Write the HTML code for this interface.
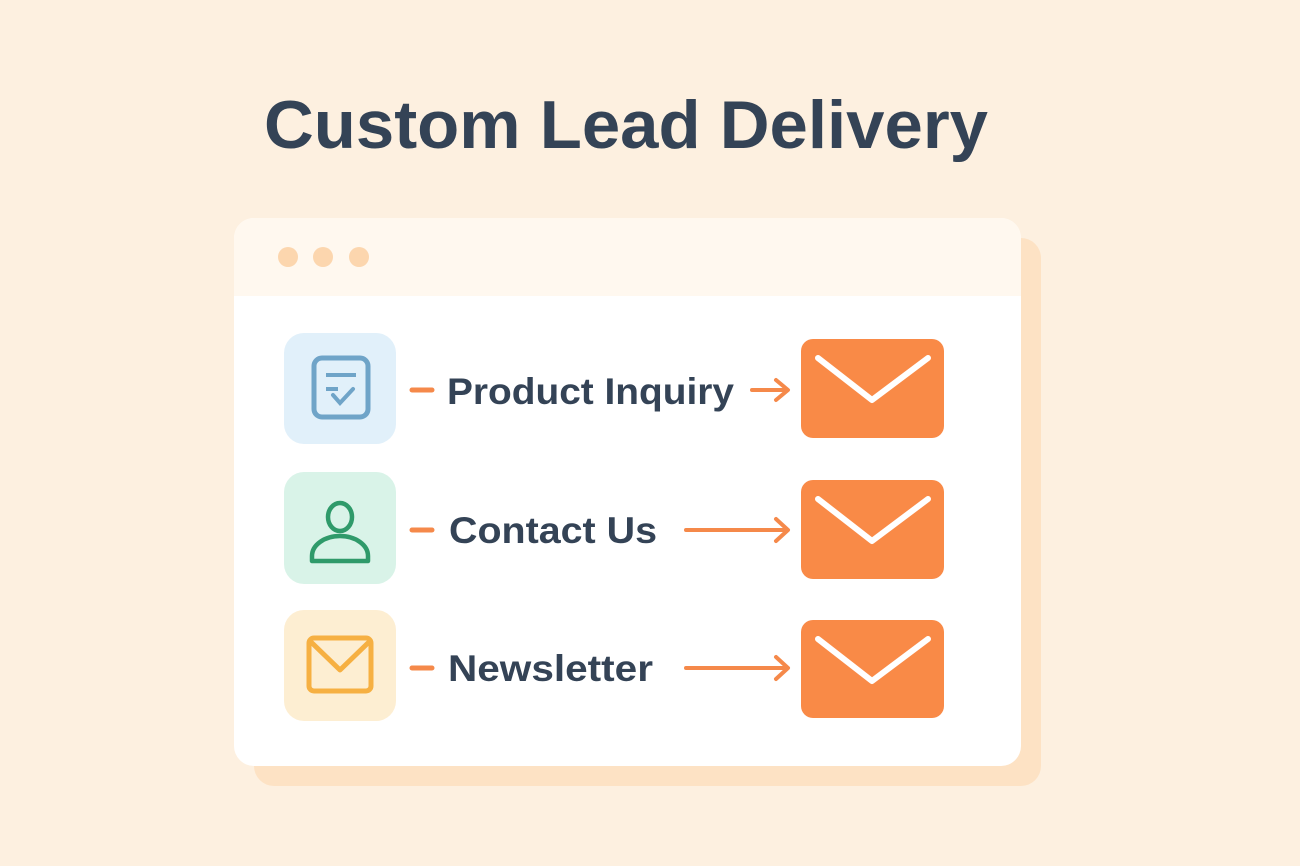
<!DOCTYPE html>
<html><head><meta charset="utf-8"><style>
html,body{margin:0;padding:0;background:#fdf0e0;}
svg{display:block}
text{font-family:"Liberation Sans",sans-serif;fill:#344356;}
</style></head><body>
<svg width="1300" height="866" viewBox="0 0 1300 866" xmlns="http://www.w3.org/2000/svg">
<rect width="1300" height="866" fill="#fdf0e0"/>
<text x="264" y="148" font-size="68" font-weight="bold" textLength="724" lengthAdjust="spacingAndGlyphs">Custom Lead Delivery</text>
<rect x="254" y="238" width="787" height="548" rx="20" fill="#fde2c4"/>
<rect x="234" y="218" width="787" height="548" rx="20" fill="#ffffff"/>
<path d="M234 296 V238 a20 20 0 0 1 20 -20 H1001 a20 20 0 0 1 20 20 V296 Z" fill="#fff8ef"/>
<circle cx="288" cy="257" r="10" fill="#fcd6ae"/>
<circle cx="323" cy="257" r="10" fill="#fcd6ae"/>
<circle cx="359" cy="257" r="10" fill="#fcd6ae"/>

<!-- row 1 -->
<rect x="284" y="333" width="112" height="111" rx="20" fill="#e1f0fa"/>
<rect x="314" y="358" width="54" height="59" rx="8" fill="none" stroke="#6fa4c8" stroke-width="5"/>
<line x1="326" y1="375" x2="356" y2="375" stroke="#6fa4c8" stroke-width="4"/>
<line x1="326" y1="389" x2="338" y2="389" stroke="#6fa4c8" stroke-width="4"/>
<polyline points="333,395 340,403 353,389" fill="none" stroke="#6fa4c8" stroke-width="4" stroke-linecap="round"/>
<line x1="412" y1="390" x2="432" y2="390" stroke="#f5894a" stroke-width="5" stroke-linecap="round"/>
<text x="447" y="404" font-size="37" font-weight="bold" textLength="287" lengthAdjust="spacingAndGlyphs">Product Inquiry</text>
<line x1="752" y1="390" x2="786" y2="390" stroke="#f5894a" stroke-width="4" stroke-linecap="round"/>
<polyline points="776,380 788,390 776,400" fill="none" stroke="#f5894a" stroke-width="4" stroke-linecap="round" stroke-linejoin="round"/>
<rect x="801" y="339" width="143" height="99" rx="12" fill="#f98a47"/>
<polyline points="818,358 872,400 928,358" fill="none" stroke="#fff" stroke-width="6" stroke-linecap="round" stroke-linejoin="round"/>

<!-- row 2 -->
<rect x="284" y="472" width="112" height="112" rx="20" fill="#d9f3e8"/>
<ellipse cx="340" cy="517" rx="12" ry="14" fill="none" stroke="#2f9a6a" stroke-width="4.5"/>
<path d="M312 561 V556 a28 20 0 0 1 56 0 V561 Z" fill="none" stroke="#2f9a6a" stroke-width="4.5" stroke-linejoin="round"/>
<line x1="412" y1="530" x2="432" y2="530" stroke="#f5894a" stroke-width="5" stroke-linecap="round"/>
<text x="449" y="543" font-size="37" font-weight="bold" textLength="208" lengthAdjust="spacingAndGlyphs">Contact Us</text>
<line x1="686" y1="530" x2="786" y2="530" stroke="#f5894a" stroke-width="4" stroke-linecap="round"/>
<polyline points="776,519 788,530 776,541" fill="none" stroke="#f5894a" stroke-width="4" stroke-linecap="round" stroke-linejoin="round"/>
<rect x="801" y="480" width="143" height="99" rx="12" fill="#f98a47"/>
<polyline points="818,499 872,541 928,499" fill="none" stroke="#fff" stroke-width="6" stroke-linecap="round" stroke-linejoin="round"/>

<!-- row 3 -->
<rect x="284" y="610" width="112" height="111" rx="20" fill="#fdeed2"/>
<rect x="309" y="638" width="62" height="53" rx="5" fill="none" stroke="#f6b042" stroke-width="5"/>
<polyline points="311,642 340,670 369,642" fill="none" stroke="#f6b042" stroke-width="5" stroke-linejoin="round"/>
<line x1="412" y1="668" x2="432" y2="668" stroke="#f5894a" stroke-width="5" stroke-linecap="round"/>
<text x="448" y="681" font-size="37" font-weight="bold" textLength="205" lengthAdjust="spacingAndGlyphs">Newsletter</text>
<line x1="686" y1="668" x2="786" y2="668" stroke="#f5894a" stroke-width="4" stroke-linecap="round"/>
<polyline points="776,657 788,668 776,679" fill="none" stroke="#f5894a" stroke-width="4" stroke-linecap="round" stroke-linejoin="round"/>
<rect x="801" y="620" width="143" height="98" rx="12" fill="#f98a47"/>
<polyline points="818,639 872,681 928,639" fill="none" stroke="#fff" stroke-width="6" stroke-linecap="round" stroke-linejoin="round"/>
</svg>
</body></html>
